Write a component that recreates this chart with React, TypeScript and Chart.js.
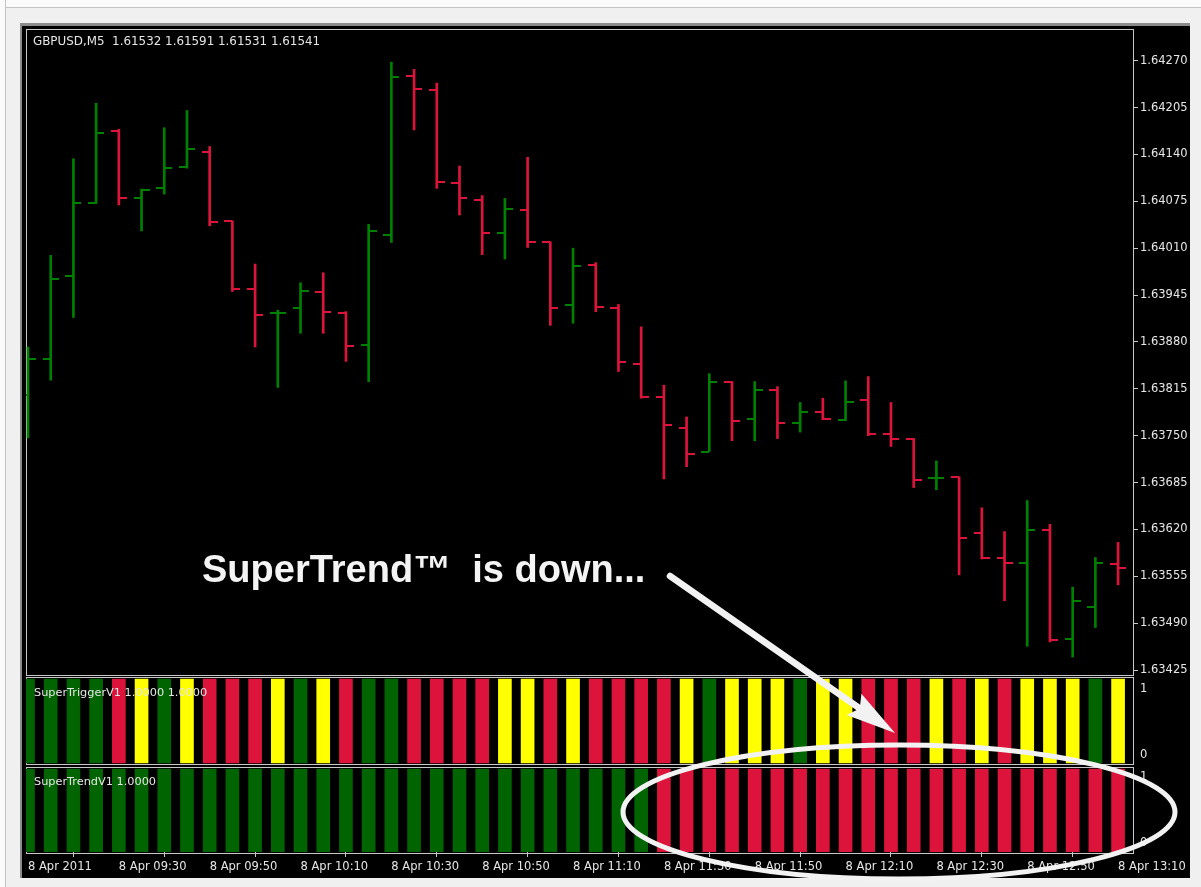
import React, { useEffect, useRef } from 'react';
import { Chart, registerables } from 'chart.js';

Chart.register(...registerables);

// ---------- data ----------
const symbolHeader = 'GBPUSD,M5  1.61532 1.61591 1.61531 1.61541';
const triggerTitle = 'SuperTriggerV1 1.0000 1.0000';
const trendTitle = 'SuperTrendV1 1.0000';
const annotationText = 'SuperTrend\u2122  is down...';

const timeLabels = [
  '8 Apr 2011', '8 Apr 09:30', '8 Apr 09:50', '8 Apr 10:10', '8 Apr 10:30',
  '8 Apr 10:50', '8 Apr 11:10', '8 Apr 11:30', '8 Apr 11:50', '8 Apr 12:10',
  '8 Apr 12:30', '8 Apr 12:50', '8 Apr 13:10',
];
const barsPerLabel = 4;

const priceTicks = [
  1.63425, 1.6349, 1.63555, 1.6362, 1.63685, 1.6375, 1.63815,
  1.6388, 1.63945, 1.6401, 1.64075, 1.6414, 1.64205, 1.6427,
];

const opens = [
  1.63806, 1.63856, 1.63972, 1.64073, 1.64173, 1.64079, 1.64093, 1.64122, 1.64144, 1.64048,
  1.63954, 1.6392, 1.63927, 1.63949, 1.6392, 1.63876, 1.64028, 1.64249, 1.64229, 1.64101,
  1.64077, 1.64031, 1.64063, 1.64019, 1.63931, 1.63987, 1.63927, 1.63849, 1.63803, 1.6376,
  1.63728, 1.63824, 1.63773, 1.63813, 1.63768, 1.63783, 1.63772, 1.63799, 1.63752, 1.63745,
  1.63691, 1.63692, 1.63615, 1.6358, 1.63574, 1.63619, 1.63468, 1.63513, 1.63572,
];
const highs = [
  1.63873, 1.64, 1.64134, 1.64211, 1.64175, 1.64092, 1.64177, 1.64201, 1.64151, 1.64048,
  1.63988, 1.63924, 1.63962, 1.63976, 1.63922, 1.64043, 1.64268, 1.64258, 1.64239, 1.64124,
  1.64083, 1.64079, 1.64136, 1.64019, 1.6401, 1.6399, 1.63932, 1.63901, 1.6382, 1.63776,
  1.63836, 1.63825, 1.63825, 1.63818, 1.63796, 1.63802, 1.63826, 1.63832, 1.63796, 1.63746,
  1.63715, 1.63693, 1.6365, 1.63617, 1.6366, 1.63627, 1.6354, 1.63581, 1.63602,
];
const lows = [
  1.63747, 1.63827, 1.63914, 1.64072, 1.6407, 1.64034, 1.64085, 1.64121, 1.64041, 1.6395,
  1.63873, 1.63817, 1.63892, 1.63892, 1.63853, 1.63825, 1.64018, 1.64174, 1.64093, 1.64056,
  1.64001, 1.63995, 1.64011, 1.63903, 1.63906, 1.63922, 1.63839, 1.63802, 1.6369, 1.63707,
  1.63728, 1.63743, 1.63743, 1.63746, 1.63755, 1.63772, 1.63771, 1.6375, 1.63735, 1.63678,
  1.63675, 1.63557, 1.63579, 1.63521, 1.63458, 1.63464, 1.63443, 1.63484, 1.63543,
];
const closes = [
  1.63856, 1.63967, 1.64073, 1.6417, 1.64079, 1.64091, 1.64121, 1.64148, 1.64047, 1.63954,
  1.63917, 1.6392, 1.63951, 1.63921, 1.63874, 1.64034, 1.64247, 1.64231, 1.64102, 1.64079,
  1.64031, 1.64065, 1.64018, 1.63927, 1.63986, 1.63929, 1.63852, 1.63804, 1.63765, 1.63724,
  1.63824, 1.63771, 1.63814, 1.63768, 1.63783, 1.63773, 1.63797, 1.63753, 1.63746, 1.63688,
  1.63691, 1.63608, 1.6358, 1.63574, 1.63619, 1.63467, 1.63521, 1.63574, 1.63566,
];

// SuperTriggerV1 histogram: state of each bar (up / down / flat), value 1
const triggerStates = [
  'up', 'up', 'up', 'up', 'down', 'flat', 'up', 'flat', 'down', 'down',
  'down', 'flat', 'up', 'flat', 'down', 'up', 'up', 'down', 'down', 'down',
  'down', 'flat', 'flat', 'down', 'flat', 'down', 'down', 'down', 'down', 'flat',
  'up', 'flat', 'flat', 'flat', 'up', 'flat', 'flat', 'down', 'down', 'down',
  'flat', 'down', 'flat', 'down', 'flat', 'flat', 'flat', 'up', 'flat',
];
const triggerValues = [
  1, 1, 1, 1, 1, 1, 1, 1, 1, 1, 1, 1, 1, 1, 1, 1, 1, 1, 1, 1, 1, 1, 1, 1, 1,
  1, 1, 1, 1, 1, 1, 1, 1, 1, 1, 1, 1, 1, 1, 1, 1, 1, 1, 1, 1, 1, 1, 1, 1,
];
// SuperTrendV1 histogram
const trendStates = [
  'up', 'up', 'up', 'up', 'up', 'up', 'up', 'up', 'up', 'up',
  'up', 'up', 'up', 'up', 'up', 'up', 'up', 'up', 'up', 'up',
  'up', 'up', 'up', 'up', 'up', 'up', 'up', 'up', 'down', 'down',
  'down', 'down', 'down', 'down', 'down', 'down', 'down', 'down', 'down', 'down',
  'down', 'down', 'down', 'down', 'down', 'down', 'down', 'down', 'down',
];
const trendValues = [
  1, 1, 1, 1, 1, 1, 1, 1, 1, 1, 1, 1, 1, 1, 1, 1, 1, 1, 1, 1, 1, 1, 1, 1, 1,
  1, 1, 1, 1, 1, 1, 1, 1, 1, 1, 1, 1, 1, 1, 1, 1, 1, 1, 1, 1, 1, 1, 1, 1,
];

// ---------- styles ----------
const UP = '#008000';
const DOWN = '#dc143c';
const IND_UP = '#006400';
const IND_FLAT = '#ffff00';
const TEXT = '#e6e6e6';
const FRAME = '#c8c8c8';
const FONT_FAMILY = '"DejaVu Sans", Tahoma, sans-serif';

function makeTick(color: string, side: 'left' | 'right') {
  const c = document.createElement('canvas');
  c.width = 18;
  c.height = 2;
  const g = c.getContext('2d')!;
  g.fillStyle = color;
  if (side === 'left') g.fillRect(1, 0, 8, 2);
  else g.fillRect(9, 0, 8, 2);
  return c;
}

export default function App() {
  const canvasRef = useRef<HTMLCanvasElement>(null);

  useEffect(() => {
    const canvas = canvasRef.current;
    if (!canvas) return;

    const idx = opens.map((_, i) => i);
    const isUp = idx.map((i) => closes[i] >= opens[i]);
    const openUp = makeTick(UP, 'left');
    const openDown = makeTick(DOWN, 'left');
    const closeUp = makeTick(UP, 'right');
    const closeDown = makeTick(DOWN, 'right');
    const stateColor = (s: string, upC: string) =>
      s === 'up' ? upC : s === 'down' ? DOWN : IND_FLAT;

    const xMin = -0.088;
    const xMax = 48.657;

    const font = { family: FONT_FAMILY, size: 11.5 };

    const decor = {
      id: 'mt4decor',
      beforeDatasetsDraw(chart: any) {
        const ctx = chart.ctx;
        const { left, right } = chart.chartArea;
        const y = chart.scales.y;
        const y2 = chart.scales.y2;
        const y3 = chart.scales.y3;
        ctx.save();
        ctx.strokeStyle = FRAME;
        ctx.lineWidth = 1;
        ctx.strokeRect(left + 0.5, y.top - 0.5, right - left, y.bottom - y.top + 1);
        ctx.strokeRect(left + 0.5, y2.top + 2.5, right - left, y2.bottom - y2.top - 3);
        ctx.strokeRect(left + 0.5, y3.top + 2.5, right - left, y3.bottom - y3.top - 1);
        ctx.restore();
        ctx.imageSmoothingEnabled = false;
      },
      afterDatasetsDraw(chart: any) {
        const ctx = chart.ctx;
        ctx.imageSmoothingEnabled = true;
        const y = chart.scales.y;
        const y2 = chart.scales.y2;
        const y3 = chart.scales.y3;
        ctx.save();
        ctx.fillStyle = TEXT;
        ctx.textAlign = 'left';
        ctx.textBaseline = 'middle';
        ctx.font = `11.9px ${FONT_FAMILY}`;
        ctx.fillText(symbolHeader, 33, y.top + 12);
        ctx.font = `11.3px ${FONT_FAMILY}`;
        ctx.fillText(triggerTitle, 34, y2.top + 18);
        ctx.fillText(trendTitle, 34, y3.top + 17.5);
        ctx.restore();
      },
      afterDraw(chart: any) {
        const ctx = chart.ctx;
        ctx.save();
        // caption
        ctx.font = 'bold 38px "Liberation Sans", Arial, sans-serif';
        ctx.fillStyle = '#f4f4f4';
        ctx.textAlign = 'left';
        ctx.textBaseline = 'alphabetic';
        ctx.fillText(annotationText, 202, 582);
        // arrow
        const sx = 670, sy = 576, tx = 895, ty = 733;
        const len = Math.hypot(tx - sx, ty - sy);
        const ux = (tx - sx) / len, uy = (ty - sy) / len;
        const nx = -uy, ny = ux;
        ctx.strokeStyle = '#f2f2f2';
        ctx.fillStyle = '#f2f2f2';
        ctx.lineCap = 'round';
        ctx.lineWidth = 6.5;
        ctx.beginPath();
        ctx.moveTo(sx, sy);
        ctx.lineTo(tx - 42 * ux, ty - 42 * uy);
        ctx.stroke();
        ctx.beginPath();
        ctx.moveTo(tx, ty);
        ctx.lineTo(tx - 50 * ux + 13 * nx, ty - 50 * uy + 13 * ny);
        ctx.lineTo(tx - 43 * ux, ty - 43 * uy);
        ctx.lineTo(tx - 50 * ux - 13 * nx, ty - 50 * uy - 13 * ny);
        ctx.closePath();
        ctx.fill();
        // ellipse
        ctx.beginPath();
        ctx.ellipse(899, 812, 276, 67, 0, 0, Math.PI * 2);
        ctx.lineWidth = 5;
        ctx.strokeStyle = '#f2f2f2';
        ctx.stroke();
        ctx.restore();
      },
    };

    const chart = new Chart(canvas, {
      type: 'bar',
      data: {
        datasets: [
          {
            type: 'line',
            label: 'Open',
            data: idx.map((i) => ({ x: i, y: opens[i] })),
            showLine: false,
            pointStyle: idx.map((i) => (isUp[i] ? openUp : openDown)) as any,
            pointRadius: 1,
            xAxisID: 'x',
            yAxisID: 'y',
          },
          {
            type: 'line',
            label: 'Close',
            data: idx.map((i) => ({ x: i, y: closes[i] })),
            showLine: false,
            pointStyle: idx.map((i) => (isUp[i] ? closeUp : closeDown)) as any,
            pointRadius: 1,
            xAxisID: 'x',
            yAxisID: 'y',
          },
          {
            type: 'bar',
            label: 'High-Low',
            data: idx.map((i) => ({ x: i, y: [lows[i], highs[i]] })) as any,
            backgroundColor: idx.map((i) => (isUp[i] ? UP : DOWN)),
            borderWidth: 0,
            barThickness: 2,
            grouped: false,
            xAxisID: 'x',
            yAxisID: 'y',
          },
          {
            type: 'bar',
            label: 'SuperTriggerV1',
            data: idx.map((i) => ({ x: i, y: triggerValues[i] })) as any,
            backgroundColor: triggerStates.map((s) => stateColor(s, IND_UP)),
            borderWidth: 0,
            barThickness: 13,
            grouped: false,
            xAxisID: 'x',
            yAxisID: 'y2',
          },
          {
            type: 'bar',
            label: 'SuperTrendV1',
            data: idx.map((i) => ({ x: i, y: trendValues[i] })) as any,
            backgroundColor: trendStates.map((s) => stateColor(s, IND_UP)),
            borderWidth: 0,
            barThickness: 13,
            grouped: false,
            xAxisID: 'x',
            yAxisID: 'y3',
          },
        ],
      },
      options: {
        responsive: false,
        animation: false,
        events: [],
        layout: { autoPadding: false, padding: { top: 30, left: 26, right: 0, bottom: 0 } } as any,
        plugins: { legend: { display: false }, tooltip: { enabled: false }, title: { display: false } },
        scales: {
          x: {
            type: 'linear',
            position: 'bottom',
            min: xMin,
            max: xMax,
            bounds: 'data',
            offset: false,
            afterBuildTicks: (s: any) => {
              s.ticks = timeLabels.map((_, k) => ({ value: k * barsPerLabel }));
            },
            afterFit: (s: any) => {
              s.height = 35;
            },
            grid: { display: true, drawOnChartArea: false, drawTicks: true, tickLength: 5, color: FRAME },
            border: { display: false },
            ticks: {
              align: 'start',
              autoSkip: false,
              maxRotation: 0,
              minRotation: 0,
              padding: 3,
              color: TEXT,
              font,
              callback: (v: any) => timeLabels[Math.round(Number(v) / barsPerLabel)] ?? '',
            },
          } as any,
          y: {
            type: 'linear',
            position: 'right',
            stack: 'panes',
            stackWeight: 645,
            min: 1.634181,
            max: 1.643126,
            bounds: 'data',
            afterBuildTicks: (s: any) => {
              s.ticks = priceTicks.map((v) => ({ value: v }));
            },
            afterFit: (s: any) => {
              s.width = 68;
            },
            grid: { display: true, drawOnChartArea: false, drawTicks: true, tickLength: 5, color: FRAME },
            border: { display: false },
            ticks: { padding: 2, color: TEXT, font, callback: (v: any) => Number(v).toFixed(5) },
          } as any,
          y2: {
            type: 'linear',
            position: 'right',
            stack: 'panes',
            stackWeight: 90,
            min: -0.0238,
            max: 1.0476,
            bounds: 'data',
            afterBuildTicks: (s: any) => {
              const r = s.max - s.min;
              s.ticks = [{ value: s.min + (10 / 90) * r }, { value: s.max - (14 / 90) * r }];
            },
            afterFit: (s: any) => {
              s.width = 68;
            },
            grid: { display: false, drawTicks: false, tickLength: 0 },
            border: { display: false },
            ticks: { padding: 7, color: TEXT, font, callback: (v: any) => (Number(v) > 0.5 ? '1' : '0') },
          } as any,
          y3: {
            type: 'linear',
            position: 'right',
            stack: 'panes',
            stackWeight: 87,
            min: 0,
            max: 1.0482,
            bounds: 'data',
            afterBuildTicks: (s: any) => {
              const r = s.max - s.min;
              s.ticks = [{ value: s.min + (9 / 87) * r }, { value: s.max - (12 / 87) * r }];
            },
            afterFit: (s: any) => {
              s.width = 68;
            },
            grid: { display: false, drawTicks: false, tickLength: 0 },
            border: { display: false },
            ticks: { padding: 7, color: TEXT, font, callback: (v: any) => (Number(v) > 0.5 ? '1' : '0') },
          } as any,
        },
      },
      plugins: [decor],
    } as any);

    return () => chart.destroy();
  }, []);

  return (
    <div
      style={{
        position: 'fixed',
        left: 0,
        top: 0,
        width: 1201,
        height: 887,
        background: '#f0f0f0',
        overflow: 'hidden',
      }}
    >
      <div style={{ position: 'absolute', left: 0, top: 0, width: 1201, height: 7, background: '#fbfbfb', borderBottom: '1px solid #c4c4c4' }} />
      <div style={{ position: 'absolute', left: 0, top: 0, width: 5, height: 887, background: '#fbfbfb', borderRight: '1px solid #c4c4c4' }} />
      <div
        style={{
          position: 'absolute',
          left: 20,
          top: 23,
          width: 1170,
          height: 855,
          boxSizing: 'border-box',
          background: '#000',
          borderTop: '3px solid #8c8c8c',
          borderLeft: '2px solid #8c8c8c',
        }}
      />
      <canvas ref={canvasRef} width={1201} height={887} style={{ position: 'absolute', left: 0, top: 0 }} />
    </div>
  );
}
